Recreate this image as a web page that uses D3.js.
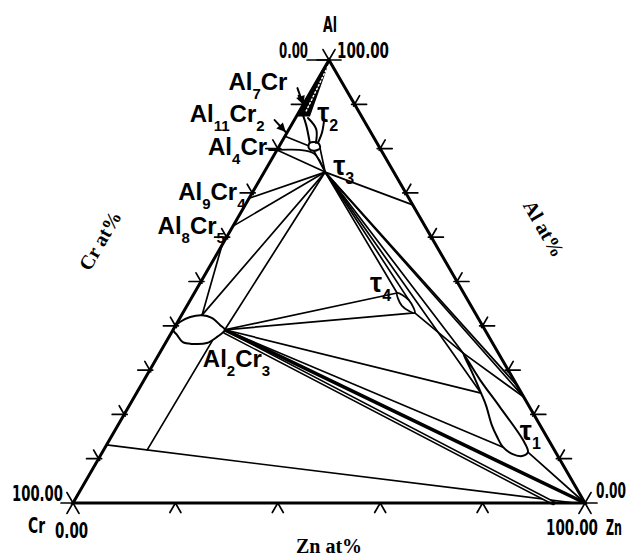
<!DOCTYPE html>
<html>
<head>
<meta charset="utf-8">
<script src="https://cdn.jsdelivr.net/npm/d3@7"></script>
<style>
  body { margin: 0; background: #fff; }
  svg { display: block; }
</style>
</head>
<body>
<div id="chart"></div>
<script>
// every point is [Al at%, Zn at%]; Cr = 100 - Al - Zn

const crTicks = [10, 20, 30, 40, 50, 60, 70, 80, 90];
const alTicks = [10, 20, 30, 40, 50, 60, 70, 80, 90];
const znTicks = [20, 40, 60, 80];
const corners = [[100, 0], [0, 0], [0, 100]]; // Al, Cr, Zn

const tau3 = [74.7, 11.9];
const al2cr3Tip = [39.1, 10.1];

const al2cr3Lens = [[39.1, 0], [40.9, 0.5], [42.0, 1.9], [42.4, 4.0], [41.8, 6.2], [40.2, 8.6],
  [39.1, 10.1], [37.5, 9.4], [36.1, 8.1], [35.9, 5.5], [36.3, 3.3], [37.9, 1.4]];
const al7crBand = [[100, 0], [87.5, 0], [87.5, 2.4]];
const al4crBlob = [[81.3, 5.6], [81.3, 7.2], [80.1, 8.2], [79.5, 7.3], [80.1, 6.0]];
const tau2Curves = [
  [[87.6, 1.1], [85.3, 2.9], [81.3, 5.6]],
  [[86.9, 2.45], [84.4, 5.3], [81.3, 6.8]],
  [[86.5, 5.8], [83.7, 6.8], [81.3, 7.2]]
];
const tau4Region = [[47.4, 39.6], [45.8, 42.7], [42.9, 45.3], [44.5, 42.0]];
const tau1Region = [[33.9, 59.2], [27.8, 65.6], [21.7, 72.5], [14.2, 80.8], [11.5, 83.1], [10.6, 82.4],
  [11.1, 80.2], [12.6, 77.7], [14.9, 75.4], [17.6, 73.0], [22.1, 69.6], [24.8, 67.3], [29.6, 63.1]];

const tieLines = [
  [[68.8, 0], tau3],
  [[62.5, 0], tau3],
  [[42.4, 4.0], [58.2, 0]],
  [[42.4, 4.0], tau3],
  [al2cr3Tip, tau3],
  [[79.7, 0], tau3],
  [[79.7, 0], [79.0, 7.4], tau3],
  [[82.8, 0], [80.6, 5.8]],
  [[79.5, 7.3], tau3],
  [[80.1, 8.2], tau3],
  [tau3, [67.3, 32.7]],
  [tau3, [47.4, 39.6]],
  [tau3, [45.8, 42.7]],
  [tau3, [33.9, 59.2]],
  [tau3, [24.8, 67.3]],
  [tau3, [23.9, 76.1]],
  [tau3, [26.5, 73.5]],
  [[42.9, 45.3], [33.9, 59.2]],
  [[33.9, 59.2], [23.9, 76.1]],
  [al2cr3Tip, [47.4, 39.6]],
  [al2cr3Tip, [42.9, 45.3]],
  [al2cr3Tip, [24.8, 67.3]],
  [al2cr3Tip, [12.6, 77.7]],
  [[11.5, 83.1], [0, 100]],
  [[36.6, 8.9], [12.0, 8.5]],
  [[13.1, 0], [0, 98]]
];
const heavyLines = [[al2cr3Tip, [0, 100]]];
const hollowLines = [[[38.6, 10.4], [0, 93.8]]];

const phaseLabels = [
  { parts: [["Al", 0], ["7", 1], ["Cr", 0]], at: [89.6, 0.4], dx: -76, dy: -16, arrow: true },
  { parts: [["Al", 0], ["11", 1], ["Cr", 0], ["2", 1]], at: [83.5, 0], dx: -97, dy: -11, arrow: true },
  { parts: [["Al", 0], ["4", 1], ["Cr", 0]], at: [79.7, 0], dx: -69, dy: 5, pointer: true },
  { parts: [["Al", 0], ["9", 1], ["Cr", 0], ["4", 1]], at: [70, 0], dx: -74, dy: 7 },
  { parts: [["Al", 0], ["8", 1], ["Cr", 0], ["5", 1]], at: [60, 0], dx: -69, dy: -3 },
  { parts: [["Al", 0], ["2", 1], ["Cr", 0], ["3", 1]], at: al2cr3Tip, dx: -22, dy: 37 }
];
const tauLabels = [
  { n: "1", at: [13.1, 81.9], dx: -6, dy: -5 },
  { n: "2", at: [86.5, 5.8], dx: -7, dy: 2 },
  { n: "3", at: tau3, dx: 8, dy: 3 },
  { n: "4", at: [47.4, 39.6], dx: -27, dy: -1 }
];

const W = 628, H = 557;
const X = d3.scaleLinear().domain([0, 100]).range([73, 585]);
const Y = d3.scaleLinear().domain([0, 100]).range([503, 60]);
const pt = d => [X(d[1] + d[0] / 2), Y(d[0])];

const svg = d3.select("#chart").append("svg").attr("width", W).attr("height", H);

svg.append("defs").append("marker")
  .attr("id", "arr").attr("viewBox", "0 0 10 10")
  .attr("refX", 10).attr("refY", 5)
  .attr("markerWidth", 12).attr("markerHeight", 9)
  .attr("markerUnits", "userSpaceOnUse").attr("orient", "auto")
  .append("path").attr("d", "M0,0L10,5L0,10z");

const line = d3.line().x(d => pt(d)[0]).y(d => pt(d)[1]);
const curve = d3.line().x(d => pt(d)[0]).y(d => pt(d)[1]).curve(d3.curveCatmullRom);
const closed = d3.line().x(d => pt(d)[0]).y(d => pt(d)[1]).curve(d3.curveCatmullRomClosed);

const g = svg.append("g").attr("fill", "none").attr("stroke", "#000").attr("stroke-linecap", "round");

// tie lines
g.selectAll(".tie").data(tieLines).enter().append("path")
  .attr("d", d => d.length > 2 ? curve(d) : line(d))
  .attr("stroke-width", 1.7);

hollowLines.forEach(d => {
  g.append("path").attr("d", line(d)).attr("stroke-width", 4.4);
  g.append("path").attr("d", line(d)).attr("stroke-width", 1.4).attr("stroke", "#fff");
});
g.selectAll(".heavy").data(heavyLines).enter().append("path")
  .attr("d", line).attr("stroke-width", 3.6);

// phase regions
g.append("path").attr("d", closed(al2cr3Lens)).attr("fill", "#fff").attr("stroke-width", 2);
g.append("path").attr("d", closed(tau1Region)).attr("fill", "#fff").attr("stroke-width", 2);
g.append("path").attr("d", closed(tau4Region)).attr("fill", "#fff").attr("stroke-width", 1.8);
g.append("path").attr("d", closed(al4crBlob)).attr("fill", "#fff").attr("stroke-width", 2);
g.selectAll(".t2").data(tau2Curves).enter().append("path")
  .attr("d", curve).attr("stroke-width", 2);
g.append("path").attr("d", line(al7crBand) + "Z").attr("fill", "#000").attr("stroke-width", 2);
g.append("path").attr("d", line([[98.5, 0.5], [88.5, 1.3]]))
  .attr("stroke", "#fff").attr("stroke-width", 1.5).attr("stroke-dasharray", "1.5,2.5");

// triangle frame
g.append("path").attr("d", line(corners) + "Z").attr("stroke-width", 3).attr("stroke-linejoin", "miter");

// ticks: short strokes in the two grid directions, pointing out of the triangle
const dirs = {
  h: [1, 0],
  a: [0.5, -0.866],   // parallel to left edge (Cr -> Al)
  b: [-0.5, -0.866]   // parallel to right edge (Zn -> Al)
};
function tick(p, v, from, to) {
  const [x, y] = pt(p);
  g.append("line")
    .attr("x1", x + v[0] * from).attr("y1", y + v[1] * from)
    .attr("x2", x + v[0] * to).attr("y2", y + v[1] * to)
    .attr("stroke-width", 1.7);
}
crTicks.forEach(c => {
  const p = [100 - c, 0];
  tick(p, [-1, 0], -3, 12);
  tick(p, dirs.b, -2, 10);
});
alTicks.forEach(a => {
  const p = [a, 100 - a];
  tick(p, [1, 0], -3, 12);
  tick(p, dirs.a, -2, 10);
});
znTicks.forEach(z => {
  const p = [0, z];
  tick(p, [-0.5, 0.866], 0, 11);
  tick(p, [0.5, 0.866], 0, 11);
});
corners.forEach(p => {
  Object.values(dirs).forEach(v => tick(p, v, -12, 12));
});
tick(corners[0], [-1, 0], 0, 22);

// corner / axis numbers (narrow bold face, squeezed to the widths seen)
const cornerText = [
  { t: "Al", at: corners[0], dx: 1, dy: -28, anchor: "middle", w: 14 },
  { t: "0.00", at: corners[0], dx: -21, dy: -2, anchor: "end", w: 29 },
  { t: "100.00", at: corners[0], dx: 8, dy: -2, anchor: "start", w: 52 },
  { t: "100.00", at: corners[1], dx: -10, dy: -2, anchor: "end", w: 51 },
  { t: "Cr", at: corners[1], dx: -45, dy: 30, anchor: "start", w: 17 },
  { t: "0.00", at: corners[1], dx: -18, dy: 35, anchor: "start", w: 33 },
  { t: "0.00", at: corners[2], dx: 11, dy: -5, anchor: "start", w: 30 },
  { t: "100.00", at: corners[2], dx: 13, dy: 32, anchor: "end", w: 52 },
  { t: "Zn", at: corners[2], dx: 21, dy: 32, anchor: "start", w: 16 }
];
svg.append("g").selectAll("text").data(cornerText).enter().append("text")
  .attr("x", d => pt(d.at)[0] + d.dx).attr("y", d => pt(d.at)[1] + d.dy)
  .attr("text-anchor", d => d.anchor)
  .attr("textLength", d => d.w).attr("lengthAdjust", "spacingAndGlyphs")
  .attr("font-family", "'DejaVu Sans Condensed', 'DejaVu Sans', sans-serif")
  .attr("font-weight", "bold").attr("font-size", 21)
  .text(d => d.t);

// axis titles
const axisTitles = [
  { t: "Zn at%", x: (X(0) + X(100)) / 2, y: 553, rot: 0 },
  { t: "Cr at%", x: 106, y: 244, rot: -60 },
  { t: "Al at%", x: 538, y: 232, rot: 60 }
];
svg.append("g").selectAll("text").data(axisTitles).enter().append("text")
  .attr("transform", d => `translate(${d.x},${d.y}) rotate(${d.rot})`)
  .attr("text-anchor", "middle")
  .attr("font-family", "'Liberation Serif', 'DejaVu Serif', serif")
  .attr("font-weight", "bold").attr("font-size", 20)
  .text(d => d.t);

// phase labels
const lab = svg.append("g").attr("font-family", "'Liberation Sans', Arial, sans-serif")
  .attr("font-weight", "bold");
phaseLabels.forEach(d => {
  const [ax, ay] = pt(d.at);
  const x = ax + d.dx, y = ay + d.dy;
  const t = lab.append("text").attr("x", x).attr("y", y).attr("font-size", 24);
  let prevSub = false;
  d.parts.forEach(([s, sub]) => {
    const ts = t.append("tspan").text(s);
    if (sub && !prevSub) ts.attr("dy", 9).attr("font-size", 15);
    if (!sub && prevSub) ts.attr("dy", -9);
    prevSub = !!sub;
  });
  if (d.arrow) {
    g.append("line")
      .attr("x1", x + t.node().getComputedTextLength() + 10).attr("y1", y - 2)
      .attr("x2", ax - 1).attr("y2", ay - 1)
      .attr("stroke-width", 2).attr("marker-end", "url(#arr)");
  }
  if (d.pointer) {
    g.append("line")
      .attr("x1", x + t.node().getComputedTextLength() + 2).attr("y1", ay)
      .attr("x2", ax).attr("y2", ay).attr("stroke-width", 2);
  }
});

// tau labels
tauLabels.forEach(d => {
  const [ax, ay] = pt(d.at);
  const t = lab.append("text").attr("x", ax + d.dx).attr("y", ay + d.dy).attr("font-size", 27);
  t.append("tspan").text("τ");
  t.append("tspan").text(d.n).attr("font-size", 16).attr("dy", 9);
});
</script>
</body>
</html>
